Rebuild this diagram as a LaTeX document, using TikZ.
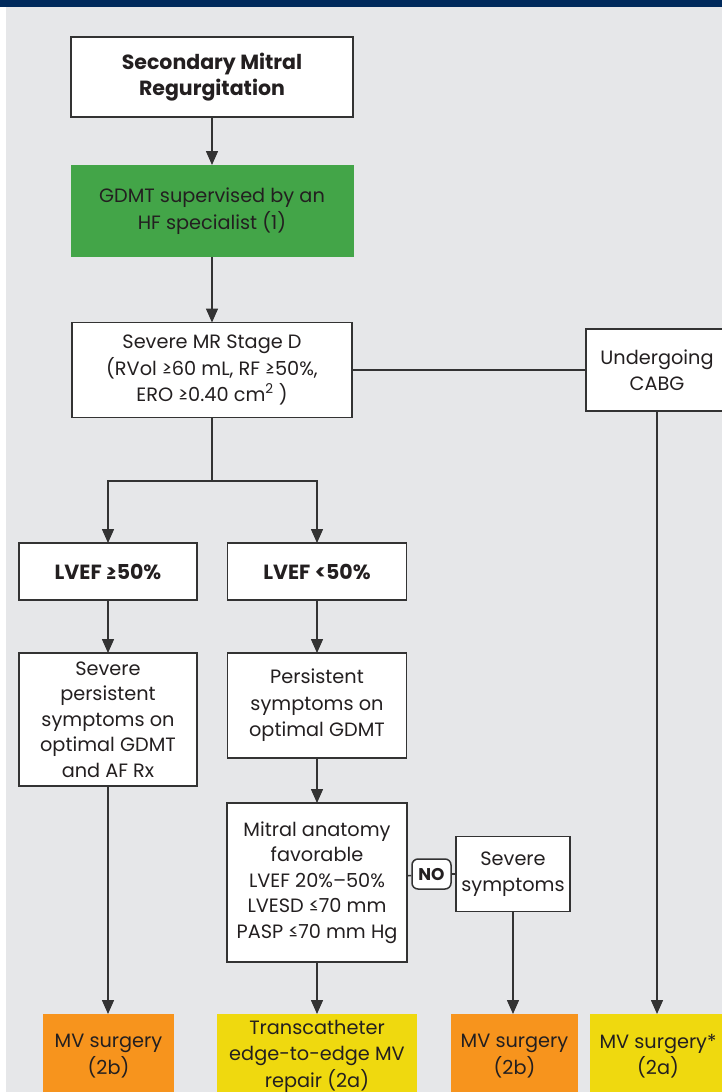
\documentclass[tikz,border=0pt]{standalone}
\usepackage{fontspec}
\setmainfont{Poppins}
\usetikzlibrary{arrows.meta}
\definecolor{navy}{HTML}{002A5C}
\definecolor{bggray}{HTML}{E6E7E9}
\definecolor{gdmtgreen}{HTML}{43A548}
\definecolor{mvorange}{HTML}{F7941D}
\definecolor{mvyellow}{HTML}{EFD90F}
\definecolor{linegray}{HTML}{333333}
\definecolor{txt}{HTML}{231F20}
\begin{document}
\begin{tikzpicture}[x=1pt,y=-1pt,font=\fontsize{19.3}{26.5}\selectfont,text=txt]

\tikzstyle{mybox} = [draw=linegray,line width=1.6pt,fill=white,align=center,inner sep=2,outer sep=0]
\tikzstyle{boldbox} = [mybox,font=\fontsize{20.5}{26.5}\selectfont\bfseries]
\tikzstyle{colbox} = [align=center,inner sep=2,outer sep=0]
\tikzstyle{arr} = [draw=linegray,line width=1.5pt,-{Triangle[length=14pt,width=12pt]}]
\tikzstyle{ln} = [draw=linegray,line width=1.5pt]

\clip (0,0) rectangle (722,1092);
\fill[white] (0,0) rectangle (722,1092);
\fill[bggray] (6,7) rectangle (722,1092);
\fill[navy] (0,0) rectangle (722,7);

\node [boldbox,minimum width=282,minimum height=80] (smr) at (212,77) {Secondary Mitral\\Regurgitation};
\node [colbox,fill=gdmtgreen,minimum width=283,minimum height=92] (gdmt) at (212,211) {GDMT supervised by an\\HF specialist (1)};
\node [mybox,minimum width=280,minimum height=95] (sev) at (212,370) {Severe MR Stage D\\(RVol ≥60 mL, RF ≥50\%,\\ERO ≥0.40 cm\textsuperscript{2} )};
\node [mybox,minimum width=142,minimum height=82] (cabg) at (657,370) {Undergoing\\CABG};

\coordinate (split) at (212,481);

\node [boldbox,minimum width=178,minimum height=57] (hi) at (108,571.5) {LVEF ≥50\%};
\node [boldbox,minimum width=179,minimum height=57] (lo) at (317,571.5) {LVEF <50\%};

\node [mybox,minimum width=178,minimum height=133,font=\fontsize{19.3}{25.5}\selectfont] (sympa) at (108,719.5) {Severe\\persistent\\symptoms on\\optimal GDMT\\and AF Rx};
\node [mybox,minimum width=179,minimum height=105] (sympb) at (317,705.5) {Persistent\\symptoms on\\optimal GDMT};

\node [mybox,minimum width=180,minimum height=159,font=\fontsize{19.3}{25.5}\selectfont] (anat) at (317,882.5) {Mitral anatomy\\favorable\\LVEF 20\%–50\%\\LVESD ≤70 mm\\PASP ≤70 mm Hg};
\node [mybox,minimum width=114,minimum height=75] (sevsym) at (513,874) {Severe\\symptoms};
\node [draw=linegray,line width=1.5pt,fill=white,rounded corners=6,minimum width=39,minimum height=30,inner sep=1,font=\fontsize{17}{20}\selectfont\bfseries] (no) at (431.5,874) {NO};

\node [colbox,fill=mvorange,minimum width=131,minimum height=84] (mva) at (108.5,1056) {MV surgery\\(2b)};
\node [colbox,fill=mvyellow,minimum width=200,minimum height=84] (teer) at (317,1056) {Transcatheter\\edge-to-edge MV\\repair (2a)};
\node [colbox,fill=mvorange,minimum width=127,minimum height=84] (mvb) at (514.5,1056) {MV surgery\\(2b)};
\node [colbox,fill=mvyellow,minimum width=136,minimum height=84] (mvc) at (658,1056) {MV surgery*\\(2a)};

\draw [arr] (smr) -- (gdmt);
\draw [arr] (gdmt) -- (sev);
\draw [ln] (sev) -- (cabg);
\draw [ln] (sev) -- (split);
\draw [arr] (split) -| (hi);
\draw [arr] (split) -| (lo);
\draw [arr] (hi) -- (sympa);
\draw [arr] (lo) -- (sympb);
\draw [arr] (sympb) -- (anat);
\draw [ln] (anat) -- (no);
\draw [ln] (no) -- (sevsym);
\draw [arr] (sympa.south) -- (sympa.south |- mva.north);
\draw [arr] (anat) -- (teer);
\draw [arr] (sevsym.south) -- (sevsym.south |- mvb.north);
\draw [arr] (cabg.south) -- (cabg.south |- mvc.north);
\end{tikzpicture}
\end{document}
